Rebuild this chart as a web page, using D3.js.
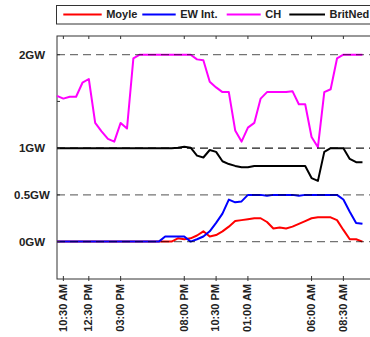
<!DOCTYPE html>
<html><head><meta charset="utf-8">
<script src="https://cdn.jsdelivr.net/npm/d3@7"></script>
<style>body{margin:0;background:#fff;overflow:hidden}svg{display:block}</style>
</head><body>
<svg id="c" width="370" height="337"></svg>
<script>
// Data: half-hourly samples from 10:00 AM to 10:00 AM next day (GW)
const seriesNames = ["Moyle", "EW Int.", "CH", "BritNed"];
const seriesColors = ["#ff0000", "#0000ff", "#ff00ff", "#000000"];
const moyle = [0,0,0,0,0,0,0,0,0,0,0,0,0,0,0,0,0,0,0,0.035,0.025,0.035,0.065,0.11,0.055,0.07,0.11,0.16,0.22,0.23,0.24,0.25,0.25,0.21,0.14,0.15,0.14,0.16,0.19,0.22,0.25,0.26,0.26,0.26,0.23,0.125,0.025,0.025,0];
const ewInt = [0,0,0,0,0,0,0,0,0,0,0,0,0,0,0,0,0,0.055,0.055,0.055,0.055,0,0.025,0.055,0.11,0.2,0.3,0.45,0.42,0.43,0.5,0.5,0.5,0.49,0.5,0.5,0.5,0.5,0.49,0.5,0.5,0.5,0.5,0.5,0.5,0.45,0.32,0.2,0.19];
const ch = [1.56,1.53,1.55,1.55,1.70,1.74,1.27,1.18,1.10,1.07,1.27,1.21,1.96,2,2,2,2,2,2,2,2,2,1.95,1.94,1.71,1.65,1.60,1.60,1.19,1.07,1.22,1.27,1.53,1.60,1.60,1.60,1.60,1.61,1.47,1.47,1.12,1.01,1.60,1.63,1.96,2,2,2,2];
const britNed = [1,1,1,1,1,1,1,1,1,1,1,1,1,1,1,1,1,1,1,1.005,1.015,1.005,0.92,0.90,0.98,0.96,0.86,0.83,0.81,0.795,0.795,0.81,0.81,0.81,0.81,0.81,0.81,0.81,0.81,0.81,0.68,0.65,0.96,1,1,1,0.885,0.85,0.85];
const yTicks = [0, 0.5, 1, 1.5, 2];
const yLabels = ["0GW", "0.5GW", "1GW", "", "2GW"];
const gridValues = [0, 0.5, 1, 2];
const xTickLabels = ["10:30 AM","12:30 PM","03:00 PM","08:00 PM","10:30 PM","01:00 AM","06:00 AM","08:30 AM"];
const xTickIndex = [1, 5, 10, 20, 25, 30, 40, 45];

const start = new Date(2020, 0, 1, 10, 0);
const step = 30 * 60 * 1000;
const t = i => new Date(start.getTime() + i * step);
const allSeries = [moyle, ewInt, ch, britNed];

const svg = d3.select("#c");
const L = 57, T = 36, B = 279, R = 375.2;
const x = d3.scaleTime().domain([t(0), t(50)]).range([L, R]);
const y = d3.scaleLinear().domain([-0.4, 2.2]).range([B, T]);

// frame
svg.append("rect").attr("x", L).attr("y", T).attr("width", R - L).attr("height", B - T)
  .attr("fill", "none").attr("stroke", "#333").attr("stroke-width", 1);

// lines
const line = d3.line().x((d, i) => x(t(i))).y(d => y(d));
allSeries.forEach((s, k) => {
  svg.append("path").datum(s).attr("d", line).attr("fill", "none")
    .attr("stroke", seriesColors[k]).attr("stroke-width", 2).attr("stroke-linejoin", "round");
});

// grid (on top)
svg.selectAll(".grid").data(gridValues).enter().append("line")
  .attr("x1", L).attr("x2", R).attr("y1", d => y(d)).attr("y2", d => y(d))
  .attr("stroke", "#000").attr("stroke-opacity", d => d === 1 ? 0.9 : 0.55)
  .attr("stroke-width", 1.2).attr("stroke-dasharray", "8,5");

// y ticks & labels
yTicks.forEach((v, i) => {
  svg.append("line").attr("x1", L).attr("x2", L + 3).attr("y1", y(v)).attr("y2", y(v)).attr("stroke", "#333");
  if (yLabels[i]) svg.append("text").attr("x", 32).attr("y", y(v)).attr("dy", "0.36em")
    .attr("text-anchor", "middle").attr("font-family", "Liberation Sans, Arial, sans-serif")
    .attr("font-weight", "bold").attr("font-size", "11.5px").attr("fill", "#222").text(yLabels[i]);
});

// x ticks & labels
xTickIndex.forEach((idx, i) => {
  const xv = x(t(idx));
  svg.append("line").attr("x1", xv).attr("x2", xv).attr("y1", B - 3).attr("y2", B + 2).attr("stroke", "#333");
  svg.append("line").attr("x1", xv).attr("x2", xv).attr("y1", T).attr("y2", T + 3).attr("stroke", "#333");
  svg.append("text").attr("transform", `translate(${xv},284) rotate(-90)`).attr("dy", "0.3em")
    .attr("text-anchor", "end").attr("font-family", "Liberation Sans, Arial, sans-serif")
    .attr("font-weight", "bold").attr("font-size", "11px").attr("fill", "#222").text(xTickLabels[i]);
});

// legend
svg.append("rect").attr("x", 56.5).attr("y", 5.5).attr("width", 400).attr("height", 18.5)
  .attr("fill", "#fff").attr("stroke", "#333");
const legX = [63.3, 142.3, 226.7, 289.3];
const legW = [38.4, 33.4, 34, 35.7];
seriesNames.forEach((n, k) => {
  svg.append("line").attr("x1", legX[k]).attr("x2", legX[k] + legW[k]).attr("y1", 14.5).attr("y2", 14.5)
    .attr("stroke", seriesColors[k]).attr("stroke-width", 2);
  svg.append("text").attr("x", legX[k] + legW[k] + 4.5).attr("y", 14.5).attr("dy", "0.36em")
    .attr("font-family", "Liberation Sans, Arial, sans-serif").attr("font-weight", "bold")
    .attr("font-size", "11px").attr("fill", "#222").text(n);
});
</script>
</body></html>
